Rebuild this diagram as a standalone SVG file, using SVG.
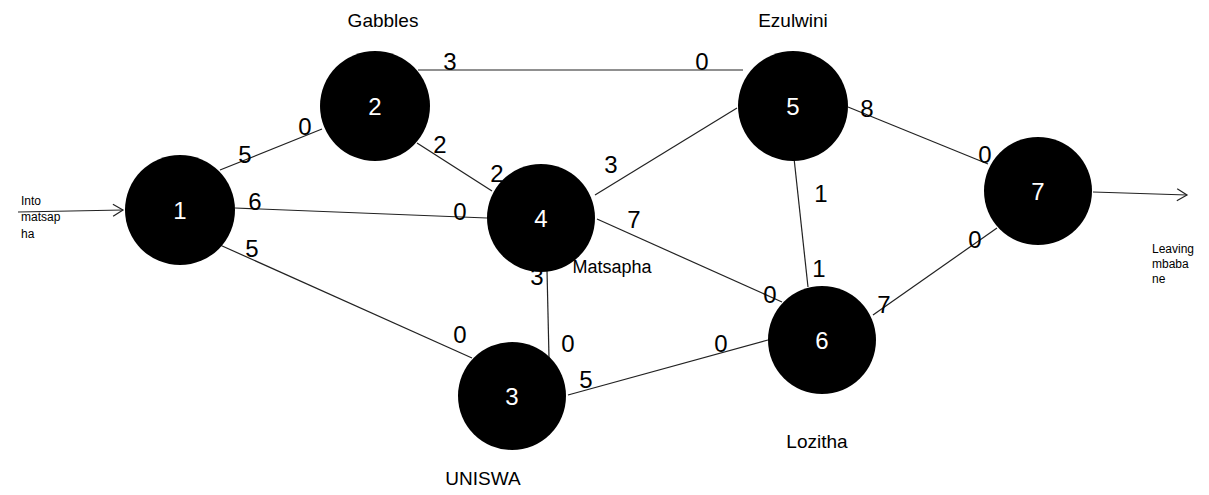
<svg xmlns="http://www.w3.org/2000/svg" width="1209" height="495" viewBox="0 0 1209 495">
<style>
.edge{stroke:#222;stroke-width:1.2;fill:none}
.node circle{fill:#000}
.nl{font-family:"Liberation Sans",Arial,sans-serif;font-size:24px;fill:#fff;text-anchor:middle}
.w{font-family:"Liberation Sans",Arial,sans-serif;font-size:24px;fill:#000;text-anchor:middle}
.place{font-family:"Liberation Sans",Arial,sans-serif;font-size:19px;fill:#000;text-anchor:middle}
.small{font-family:"Liberation Sans",Arial,sans-serif;font-size:12px;fill:#000}
</style>
<defs>
<marker id="arr" markerWidth="14" markerHeight="14" refX="12" refY="7" orient="auto" markerUnits="userSpaceOnUse">
<path d="M2,1 L12,7 L2,13" fill="none" stroke="#222" stroke-width="1.2"/>
</marker>
</defs>
<rect width="1209" height="495" fill="#fff"/>
<g id="connectors">
<line class="edge" x1="18" y1="212" x2="123" y2="210" marker-end="url(#arr)"/>
<line class="edge" x1="1093" y1="192" x2="1187" y2="195" marker-end="url(#arr)"/>
<line class="edge" x1="220" y1="170" x2="322" y2="129"/>
<line class="edge" x1="235" y1="208" x2="487" y2="218"/>
<line class="edge" x1="220" y1="245" x2="472" y2="358"/>
<line class="edge" x1="418" y1="70" x2="743" y2="70"/>
<line class="edge" x1="417" y1="143" x2="492" y2="191"/>
<line class="edge" x1="595" y1="195" x2="737" y2="108"/>
<line class="edge" x1="597" y1="219" x2="782" y2="302"/>
<line class="edge" x1="547" y1="270" x2="549" y2="358"/>
<line class="edge" x1="794" y1="158" x2="808" y2="287"/>
<line class="edge" x1="848" y1="107" x2="988" y2="164"/>
<line class="edge" x1="568" y1="395" x2="768" y2="340"/>
<line class="edge" x1="873" y1="315" x2="997" y2="228"/>
</g>
<g id="node1" class="node"><circle cx="180" cy="210" r="55"/><text class="nl" x="180" y="219">1</text></g>
<g id="node2" class="node"><circle cx="375" cy="106" r="55"/><text class="nl" x="375" y="115">2</text></g>
<g id="node3" class="node"><circle cx="512" cy="396" r="54"/><text class="nl" x="512" y="405">3</text></g>
<g id="node4" class="node"><circle cx="541" cy="218" r="54"/><text class="nl" x="541" y="227">4</text></g>
<g id="node5" class="node"><circle cx="793" cy="106" r="55"/><text class="nl" x="793" y="115">5</text></g>
<g id="node6" class="node"><circle cx="822" cy="340" r="54"/><text class="nl" x="822" y="349">6</text></g>
<g id="node7" class="node"><circle cx="1038" cy="191" r="54"/><text class="nl" x="1038" y="200">7</text></g>
<g id="labels">
<text class="place" x="383" y="27">Gabbles</text>
<text class="place" x="793" y="27">Ezulwini</text>
<text class="place" x="612" y="273" style="font-size:18px">Matsapha</text>
<text class="place" x="483" y="485">UNISWA</text>
<text class="place" x="817" y="448">Lozitha</text>
<text class="small" x="21" y="205">Into</text>
<text class="small" x="21" y="221">matsap</text>
<text class="small" x="21" y="238">ha</text>
<text class="small" x="1152" y="253">Leaving</text>
<text class="small" x="1152" y="268">mbaba</text>
<text class="small" x="1152" y="283">ne</text>
<text class="w" x="245" y="163">5</text>
<text class="w" x="305" y="135">0</text>
<text class="w" x="255" y="210">6</text>
<text class="w" x="460" y="220">0</text>
<text class="w" x="252" y="257">5</text>
<text class="w" x="460" y="343">0</text>
<text class="w" x="450" y="70">3</text>
<text class="w" x="702" y="70">0</text>
<text class="w" x="440" y="153">2</text>
<text class="w" x="497" y="182">2</text>
<text class="w" x="611" y="173">3</text>
<text class="w" x="634" y="228">7</text>
<text class="w" x="770" y="303">0</text>
<text class="w" x="537" y="285">3</text>
<text class="w" x="568" y="352">0</text>
<text class="w" x="586" y="388">5</text>
<text class="w" x="721" y="352">0</text>
<text class="w" x="867" y="117">8</text>
<text class="w" x="985" y="163">0</text>
<text class="w" x="821" y="202">1</text>
<text class="w" x="819" y="277">1</text>
<text class="w" x="975" y="248">0</text>
<text class="w" x="884" y="313">7</text>
</g>
</svg>
